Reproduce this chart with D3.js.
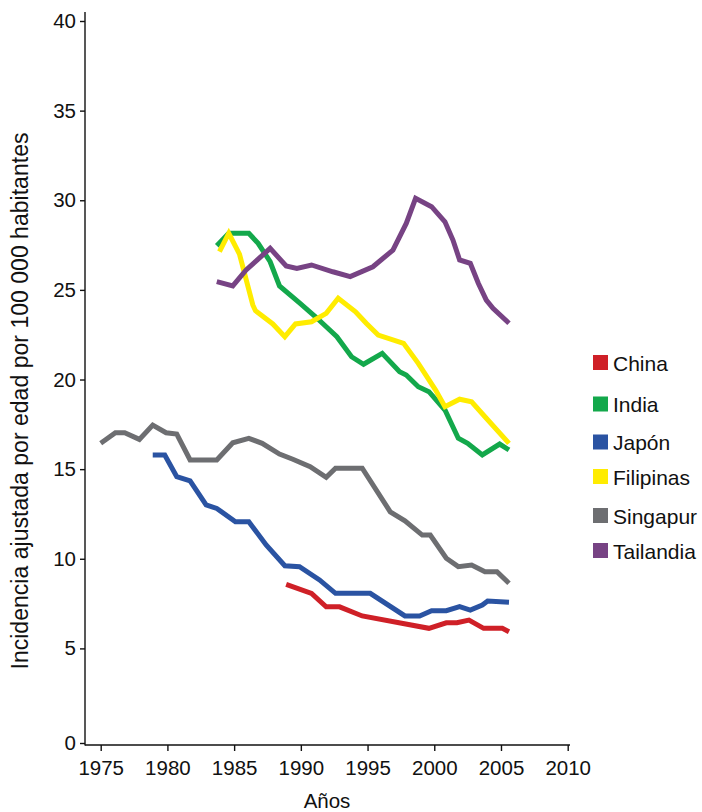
<!DOCTYPE html>
<html>
<head>
<meta charset="utf-8">
<script src="https://cdn.jsdelivr.net/npm/d3@7"></script>
<style>
  html, body { margin: 0; padding: 0; background: #fff; }
  svg { display: block; }
  text { font-family: "Liberation Sans", Arial, Helvetica, sans-serif; fill: #111; }
</style>
</head>
<body>
<svg id="chart" width="702" height="812"></svg>
<script>
// ---------- data ----------
const countries = ["China", "India", "Japón", "Filipinas", "Singapur", "Tailandia"];

const chinaYears  = [1988.9, 1990.8, 1991.9, 1992.9, 1994.6, 1999.6, 2000.9, 2001.7, 2002.6, 2003.7, 2005.1, 2005.6];
const chinaValues = [8.57, 8.07, 7.32, 7.32, 6.81, 6.12, 6.43, 6.43, 6.58, 6.12, 6.12, 5.93];

const indiaYears  = [1983.7, 1984.6, 1986.1, 1986.8, 1987.7, 1988.4, 1989.9, 1991.1, 1992.7, 1993.8, 1994.7, 1996.1, 1997.4, 1997.9, 1998.8, 1999.6, 2000.8, 2001.8, 2002.5, 2003.6, 2004.9, 2005.6];
const indiaValues = [27.46, 28.16, 28.16, 27.6, 26.57, 25.22, 24.28, 23.5, 22.39, 21.27, 20.85, 21.46, 20.44, 20.25, 19.6, 19.32, 18.3, 16.72, 16.44, 15.79, 16.4, 16.07];

const japonYears  = [1978.9, 1979.8, 1980.7, 1981.7, 1982.9, 1983.7, 1985.1, 1986.1, 1987.4, 1988.8, 1989.9, 1991.4, 1992.6, 1995.2, 1997.8, 1998.9, 1999.8, 2000.9, 2001.9, 2002.7, 2003.6, 2004.0, 2005.6];
const japonValues = [15.79, 15.79, 14.58, 14.35, 13.0, 12.81, 12.07, 12.07, 10.77, 9.61, 9.56, 8.82, 8.07, 8.07, 6.81, 6.81, 7.1, 7.1, 7.33, 7.14, 7.42, 7.64, 7.57];

const filipinasYears  = [1983.9, 1984.6, 1985.4, 1986.4, 1986.6, 1987.9, 1988.8, 1989.6, 1990.8, 1991.9, 1992.8, 1994.1, 1994.9, 1995.8, 1997.7, 1998.8, 2000.1, 2000.8, 2001.9, 2002.8, 2003.9, 2005.6];
const filipinasValues = [27.13, 28.16, 27.0, 24.16, 23.84, 23.1, 22.39, 23.1, 23.22, 23.69, 24.53, 23.78, 23.14, 22.48, 22.02, 20.9, 19.41, 18.48, 18.9, 18.76, 17.84, 16.44];

const singapurYears  = [1975.0, 1976.1, 1976.8, 1977.9, 1978.9, 1979.9, 1980.7, 1981.7, 1983.7, 1984.9, 1986.1, 1987.1, 1988.4, 1989.4, 1990.7, 1991.9, 1992.6, 1994.6, 1996.7, 1997.8, 1999.1, 1999.7, 2000.9, 2001.8, 2002.8, 2003.8, 2004.7, 2005.6];
const singapurValues = [16.44, 17.03, 17.03, 16.66, 17.46, 17.03, 16.96, 15.51, 15.51, 16.47, 16.72, 16.44, 15.84, 15.55, 15.14, 14.54, 15.05, 15.05, 12.62, 12.12, 11.32, 11.32, 10.03, 9.56, 9.65, 9.28, 9.28, 8.63];

const tailandiaYears  = [1983.7, 1984.9, 1985.9, 1987.7, 1988.9, 1989.7, 1990.8, 1992.4, 1993.7, 1995.4, 1996.9, 1997.9, 1998.6, 1999.8, 2000.8, 2001.4, 2001.9, 2002.7, 2003.3, 2003.9, 2004.4, 2005.6];
const tailandiaValues = [25.46, 25.22, 26.11, 27.32, 26.33, 26.2, 26.39, 26.01, 25.74, 26.29, 27.22, 28.71, 30.11, 29.64, 28.8, 27.78, 26.67, 26.48, 25.37, 24.43, 23.97, 23.14];

const xTicks = [1975, 1980, 1985, 1990, 1995, 2000, 2005, 2010];
const yTicks = [0, 5, 10, 15, 20, 25, 30, 35, 40];

const xTitle = "Años";
const yTitle = "Incidencia ajustada por edad por 100 000 habitantes";

// ---------- styles ----------
const colors = ["#cf2027", "#13a84b", "#2a53a2", "#ffec00", "#6d6e71", "#774384"];

// ---------- build ----------
const seriesYears  = [chinaYears, indiaYears, japonYears, filipinasYears, singapurYears, tailandiaYears];
const seriesValues = [chinaValues, indiaValues, japonValues, filipinasValues, singapurValues, tailandiaValues];
const series = countries.map((name, i) => ({
  name, color: colors[i],
  points: seriesYears[i].map((yr, j) => ({ year: yr, value: seriesValues[i][j] }))
}));

const svg = d3.select("#chart");

const x = d3.scaleLinear().domain([1975, 2010]).range([100.7, 567.7]);
const y = d3.scaleLinear().domain([0, 5, 40]).range([743, 648.4, 21]);

const axisX = 85, axisY = 745;

// axis lines
svg.append("line").attr("x1", axisX).attr("x2", axisX).attr("y1", 12).attr("y2", axisY + 0.5)
  .attr("stroke", "#111").attr("stroke-width", 1.4);
svg.append("line").attr("x1", axisX).attr("x2", 570).attr("y1", axisY).attr("y2", axisY)
  .attr("stroke", "#111").attr("stroke-width", 1.4);

// y axis
const gy = svg.append("g").attr("transform", `translate(${axisX},0)`)
  .call(d3.axisLeft(y).tickValues(yTicks).tickSize(5).tickPadding(4).tickFormat(d3.format("d")));
gy.select(".domain").remove();
gy.selectAll(".tick line").attr("stroke", "#111").attr("stroke-width", 1.4);
gy.selectAll(".tick text").style("font-size", "20.5px").style("font-family", "Liberation Sans, Arial, sans-serif").attr("fill", "#111");

// x axis
const gx = svg.append("g").attr("transform", `translate(0,${axisY})`)
  .call(d3.axisBottom(x).tickValues(xTicks).tickSize(6).tickPadding(9).tickFormat(d3.format("d")));
gx.select(".domain").remove();
gx.selectAll(".tick line").attr("stroke", "#111").attr("stroke-width", 1.4);
gx.selectAll(".tick text").style("font-size", "20.5px").style("font-family", "Liberation Sans, Arial, sans-serif").attr("fill", "#111");

// titles
svg.append("text").attr("x", 327).attr("y", 808).attr("text-anchor", "middle")
  .style("font-size", "20.5px").text(xTitle);
svg.append("text").attr("transform", "translate(28,401) rotate(-90)").attr("text-anchor", "middle")
  .attr("textLength", 537).attr("lengthAdjust", "spacingAndGlyphs")
  .style("font-size", "23px").text(yTitle);

// lines
const line = d3.line().x(d => x(d.year)).y(d => y(d.value));
svg.append("g").selectAll("path").data(series).join("path")
  .attr("d", d => line(d.points))
  .attr("fill", "none")
  .attr("stroke", d => d.color)
  .attr("stroke-width", 5)
  .attr("stroke-linejoin", "miter")
  .attr("stroke-linecap", "butt");

// legend (row centres as laid out in the reference)
const legendRowY = [363, 404.5, 442.5, 477, 516, 551];
const legend = svg.append("g");
const lg = legend.selectAll("g").data(series).join("g")
  .attr("transform", (d, i) => `translate(593,${legendRowY[i]})`);
lg.append("rect").attr("x", 0).attr("y", -8).attr("width", 15).attr("height", 15).attr("fill", d => d.color);
lg.append("text").attr("x", 20).attr("y", 7.5).style("font-size", "21px").text(d => d.name);
</script>
</body>
</html>
